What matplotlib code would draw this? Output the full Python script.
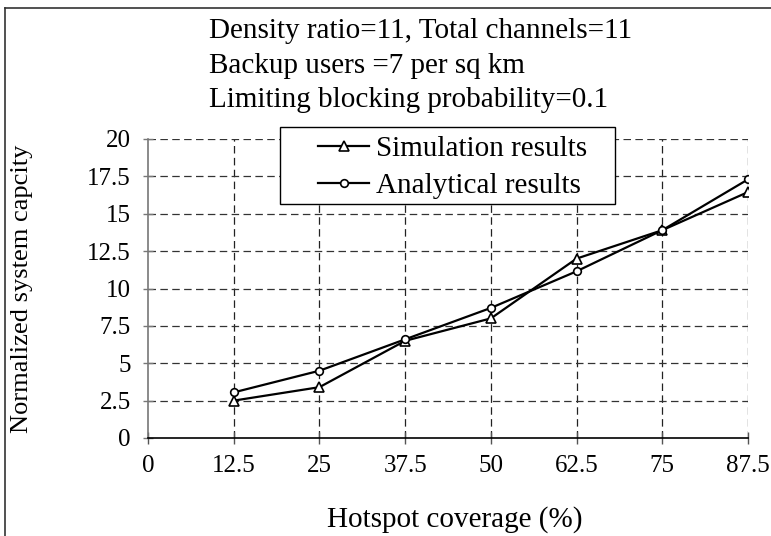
import matplotlib
matplotlib.use("Agg")
import matplotlib.pyplot as plt
from matplotlib.lines import Line2D
from matplotlib.patches import Rectangle

plt.rcParams["font.family"] = ["Liberation Serif", "DejaVu Serif"]

# data
coverage = [12.5, 25, 37.5, 50, 62.5, 75, 87.5]
sim = [2.5, 3.4, 6.5, 8.0, 12.0, 13.9, 16.45]
ana = [3.05, 4.5, 6.6, 8.7, 11.15, 13.9, 17.3]
xticks = [0, 12.5, 25, 37.5, 50, 62.5, 75, 87.5]
xticklabels = ["0", "12.5", "25", "37.5", "50", "62.5", "75", "87.5"]
yticks = [0, 2.5, 5, 7.5, 10, 12.5, 15, 17.5, 20]
yticklabels = ["0", "2.5", "5", "7.5", "10", "12.5", "15", "17.5", "20"]
notes = ["Density ratio=11, Total channels=11",
         "Backup users =7 per sq km",
         "Limiting blocking probability=0.1"]

W, H = 771, 536
fig = plt.figure(figsize=(W / 100, H / 100), dpi=100)
fig.patch.set_facecolor("white")

# outer frame (left and top edges only are visible)
fig.add_artist(Line2D([5 / W, 5 / W], [0, 1 - 8 / H], transform=fig.transFigure,
                      color="#333333", lw=1.2))
fig.add_artist(Line2D([5 / W, 1], [1 - 8 / H, 1 - 8 / H], transform=fig.transFigure,
                      color="#333333", lw=1.2))

ax = fig.add_axes([148 / W, 1 - 438 / H, 600 / W, 299 / H])
ax.set_xlim(0, 87.5)
ax.set_ylim(0, 20)

dash = (0, (6, 3.5))
for x in xticks[1:]:
    ax.axvline(x, color="#222222", lw=0.9, linestyle=dash, zorder=1)
for y in yticks[1:]:
    ax.axhline(y, color="#333333", lw=0.9, linestyle=dash, zorder=1)

l1, = ax.plot(coverage, sim, color="black", lw=1.6, marker="^", markersize=6.5,
              markerfacecolor="white", markeredgecolor="black", markeredgewidth=1.2,
              label="Simulation results", zorder=3)
l2, = ax.plot(coverage, ana, color="black", lw=1.6, marker="o", markersize=5.5,
              markerfacecolor="white", markeredgecolor="black", markeredgewidth=1.2,
              label="Analytical results", zorder=3)

for s in ("top", "right"):
    ax.spines[s].set_visible(False)
ax.spines["left"].set_color("#777777")
ax.spines["left"].set_linewidth(1.2)
ax.spines["bottom"].set_color("black")
ax.spines["bottom"].set_linewidth(1.2)
ax.spines["bottom"].set_zorder(4)

ax.set_xticks(xticks)
ax.set_xticklabels(xticklabels)
ax.set_yticks(yticks)
ax.set_yticklabels(yticklabels)
ax.tick_params(axis="x", direction="inout", length=9, width=1, color="#555555",
               labelsize=18, pad=8)
ax.tick_params(axis="y", direction="inout", length=7, width=1, color="#777777",
               labelsize=18, pad=9)

# legend box drawn separately so its padding matches the reference
fig.add_artist(Rectangle((280 / W, 1 - 204 / H), 335 / W, 77 / H,
                         transform=fig.transFigure, facecolor="white",
                         edgecolor="black", lw=1.0, zorder=2))
leg = fig.legend(handles=[l1, l2], loc="upper left",
                 bbox_to_anchor=(318 / W, 1 - 136 / H),
                 bbox_transform=fig.transFigure, fontsize=21, frameon=False,
                 borderaxespad=0, borderpad=0, handlelength=1.75,
                 handletextpad=0.25, labelspacing=0.35)
leg.set_zorder(3)

for i, t in enumerate(notes):
    fig.text(209 / W, 1 - [31, 66, 100][i] / H, t, fontsize=21, ha="left", va="center")

fig.text(455 / W, 1 - 520 / H, "Hotspot coverage (%)", fontsize=21,
         ha="center", va="center")
fig.text(22 / W, 1 - 289 / H, "Normalized system capcity", fontsize=19,
         ha="center", va="center", rotation=90)

fig.savefig("out.png", dpi=100)
